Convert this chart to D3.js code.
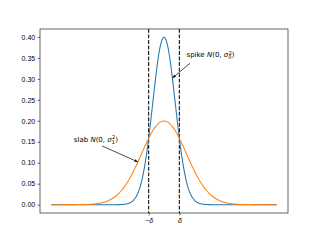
<!DOCTYPE html>
<html>
<head>
<meta charset="utf-8">
<script src="https://cdn.jsdelivr.net/npm/d3@7"></script>
<style>
  body { margin: 0; background: #fff; }
  svg { display: block; font-family: "DejaVu Sans", sans-serif; }
  .axis text { font-size: 7px; fill: #000; }
  .axis line { stroke: #000; stroke-width: 0.6; }
</style>
</head>
<body>
<svg id="chart" width="320" height="240"></svg>
<script>
// sample positions along x
var xs = [-10, -9, -8, -7, -6, -5.5, -5, -4.5,
  -4, -3.75, -3.5, -3.25, -3, -2.75, -2.5, -2.25, -2, -1.75, -1.5, -1.25, -1, -0.75, -0.5, -0.25,
  0, 0.25, 0.5, 0.75, 1, 1.25, 1.5, 1.75, 2, 2.25, 2.5, 2.75, 3, 3.25, 3.5, 3.75, 4,
  4.5, 5, 5.5, 6, 7, 8, 9, 10];

// spike density (blue)
var spike = [0, 0, 0, 0, 0, 0, 0, 0,
  0.0001, 0.0004, 0.0009, 0.0020, 0.0044, 0.0091, 0.0175, 0.0317, 0.0540, 0.0863, 0.1295, 0.1826, 0.2420, 0.3011, 0.3521, 0.3867,
  0.3989, 0.3867, 0.3521, 0.3011, 0.2420, 0.1826, 0.1295, 0.0863, 0.0540, 0.0317, 0.0175, 0.0091, 0.0044, 0.0020, 0.0009, 0.0004, 0.0001,
  0, 0, 0, 0, 0, 0, 0, 0];

// slab density (orange)
var slab = [0, 0, 0.0001, 0.0004, 0.0022, 0.0045, 0.0088, 0.0159,
  0.0270, 0.0344, 0.0431, 0.0533, 0.0648, 0.0775, 0.0913, 0.1059, 0.1210, 0.1360, 0.1506, 0.1641, 0.1760, 0.1859, 0.1933, 0.1979,
  0.1995, 0.1979, 0.1933, 0.1859, 0.1760, 0.1641, 0.1506, 0.1360, 0.1210, 0.1059, 0.0913, 0.0775, 0.0648, 0.0533, 0.0431, 0.0344, 0.0270,
  0.0159, 0.0088, 0.0045, 0.0022, 0.0004, 0.0001, 0, 0];

var yTicks = [0, 0.05, 0.10, 0.15, 0.20, 0.25, 0.30, 0.35, 0.40];
var deltaTicks = [-1.36, 1.36];
var deltaLabels = ["\u2212\u03b4", "\u03b4"];

var svg = d3.select("#chart"),
    margin = {top: 29, right: 32, bottom: 27, left: 40},
    width = +svg.attr("width") - margin.left - margin.right,
    height = +svg.attr("height") - margin.top - margin.bottom,
    g = svg.append("g").attr("transform", "translate(" + margin.left + "," + margin.top + ")");

var xScale = d3.scaleLinear().domain([-11, 11]).range([0, width]),
    yScale = d3.scaleLinear().domain([-0.0199, 0.4188]).range([height, 0]);

var line = d3.line()
  .curve(d3.curveMonotoneX)
  .x(function(d) { return xScale(d[0]); })
  .y(function(d) { return yScale(d[1]); });

// dashed delta markers
g.selectAll(".delta")
  .data(deltaTicks)
  .enter().append("line")
  .attr("x1", function(d) { return xScale(d); })
  .attr("x2", function(d) { return xScale(d); })
  .attr("y1", 0).attr("y2", height)
  .attr("stroke", "#000")
  .attr("stroke-width", 1.04)
  .attr("stroke-dasharray", "3.85,1.67");

g.append("path")
  .attr("d", line(xs.map(function(x, i) { return [x, spike[i]]; })))
  .attr("fill", "none").attr("stroke", "#1f77b4").attr("stroke-width", 1.04);

g.append("path")
  .attr("d", line(xs.map(function(x, i) { return [x, slab[i]]; })))
  .attr("fill", "none").attr("stroke", "#ff7f0e").attr("stroke-width", 1.04);

// axes
g.append("g")
  .attr("class", "axis")
  .call(d3.axisLeft(yScale).tickValues(yTicks).tickFormat(d3.format(".2f")).tickSize(2.4).tickPadding(2.4))
  .call(function(a) { a.select(".domain").remove(); });

g.append("g")
  .attr("class", "axis")
  .attr("transform", "translate(0," + height + ")")
  .call(d3.axisBottom(xScale).tickValues(deltaTicks).tickSize(2.4).tickPadding(2.4)
    .tickFormat(function(d, i) { return deltaLabels[i]; }))
  .call(function(a) {
    a.select(".domain").remove();
    a.selectAll("text").style("font-style", "italic");
  });

g.append("rect")
  .attr("width", width).attr("height", height)
  .attr("fill", "none").attr("stroke", "#000").attr("stroke-width", 0.6);

// annotations
svg.append("defs").append("marker")
  .attr("id", "head")
  .attr("viewBox", "0 0 10 10")
  .attr("refX", 10).attr("refY", 5)
  .attr("markerWidth", 5).attr("markerHeight", 5)
  .attr("orient", "auto")
  .append("path").attr("d", "M0,1 L10,5 L0,9 Z").attr("fill", "#000");

function label(x, y, name, sub) {
  var t = g.append("text")
    .attr("x", xScale(x)).attr("y", yScale(y))
    .attr("font-size", 7).attr("fill", "#000");
  t.append("tspan").text(name + " ");
  t.append("tspan").attr("font-style", "italic").text("N");
  t.append("tspan").text("(0, ");
  t.append("tspan").attr("font-style", "italic").text("\u03c3");
  t.append("tspan").attr("font-size", 5).attr("dy", 1.8).text(sub);
  t.append("tspan").attr("font-size", 5).attr("dx", -2.8).attr("dy", -4.6).text("2");
  t.append("tspan").attr("dy", 2.8).text(")");
}

function arrow(x1, y1, x2, y2) {
  g.append("line")
    .attr("x1", xScale(x1)).attr("y1", yScale(y1))
    .attr("x2", xScale(x2)).attr("y2", yScale(y2))
    .attr("stroke", "#000").attr("stroke-width", 0.7)
    .attr("marker-end", "url(#head)");
}

label(2.0, 0.351, "spike", "0");
arrow(2.3, 0.337, 0.75, 0.302);

label(-8.0, 0.150, "slab", "1");
arrow(-5.5, 0.140, -2.32, 0.102);
</script>
</body>
</html>
